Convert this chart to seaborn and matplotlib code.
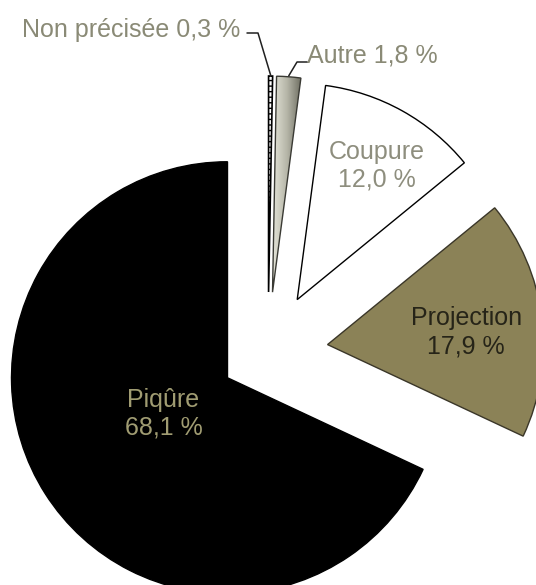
import numpy as np
import matplotlib
matplotlib.use("Agg")
import matplotlib.pyplot as plt
import seaborn as sns

# Répartition des accidents par type de blessure (%)
categories = ["Piqûre", "Projection", "Coupure", "Autre", "Non précisée"]
values = [68.1, 17.9, 12.0, 1.8, 0.3]
value_labels = ["68,1 %", "17,9 %", "12,0 %", "1,8 %", "0,3 %"]

sns.set_style("white")
plt.rcParams["font.family"] = ["Liberation Sans", "DejaVu Sans"]

W, H = 536, 585
fig = plt.figure(figsize=(W / 100, H / 100), dpi=100)
ax = fig.add_axes([0, 0, 1, 1])

face_colors = ["#000000", "#8b8257", "#ffffff", "#a8a89a", "#ffffff"]
edge_colors = ["#000000", "#3a3628", "#000000", "#3a3a34", "#000000"]
# wedge offsets, in the same units as the radius
explode = [48, 60, 60, 60, 60]

wedges, _ = ax.pie(
    values,
    explode=explode,
    startangle=90,
    counterclock=True,
    radius=216,
    center=(268, 233),
    colors=face_colors,
    wedgeprops=dict(linewidth=1.0),
)
for w, ec in zip(wedges, edge_colors):
    w.set_edgecolor(ec)

# ladder-like pattern on the thin "Non précisée" slice
wedges[4].set_hatch("---")
wedges[4].set_linewidth(1.2)

# shaded grey fill for "Autre"
autre = wedges[3]
bb = autre.get_path().get_extents()
grad = np.linspace(0, 1, 64)[None, :]
cmap = matplotlib.colors.LinearSegmentedColormap.from_list(
    "autre", ["#e2e2d6", "#b4b4a6", "#6c6c60"])
im = ax.imshow(np.repeat(grad, 4, axis=0), cmap=cmap, aspect="auto",
               extent=(bb.x0, bb.x1, bb.y0, bb.y1), zorder=autre.get_zorder() + 0.5,
               interpolation="bilinear")
im.set_clip_path(autre)
autre.set_facecolor("none")
autre.set_zorder(autre.get_zorder() + 1)


def wedge_point(w, frac, dtheta=0.0):
    ang = np.deg2rad((w.theta1 + w.theta2) / 2 + dtheta)
    cx, cy = w.center
    return cx + frac * w.r * np.cos(ang), cy + frac * w.r * np.sin(ang)


fs = 18
# labels inside the three large slices: (radial fraction, angular shift, colour)
inside = {0: (0.34, -3.0, "#a09c72"),
          1: (0.645, -2.0, "#262418"),
          2: (0.72, -1.5, "#8e8e7e")}
for i, (frac, dth, col) in inside.items():
    x, y = wedge_point(wedges[i], frac, dth)
    ax.text(x, y, f"{categories[i]}\n{value_labels[i]}", ha="center", va="center",
            fontsize=fs, color=col, linespacing=1.2, zorder=10)

# outside labels with leader lines for the small slices
lab_col = "#8a8a76"
tip = wedge_point(wedges[4], 1.0)
ax.text(240, H - 37, f"{categories[4]} {value_labels[4]}", ha="right", va="baseline",
        fontsize=fs, color=lab_col)
ax.plot([247, 258, tip[0]], [H - 33, H - 33, tip[1] + 1], color="#202020", lw=1.1, zorder=11)

tip = wedge_point(wedges[3], 1.0)
ax.text(307, H - 62, f"{categories[3]} {value_labels[3]}", ha="left", va="baseline",
        fontsize=fs, color=lab_col)
ax.plot([307, 297, tip[0]], [H - 62, H - 62, tip[1] + 1], color="#202020", lw=1.1, zorder=11)

ax.set_xlim(0, W)
ax.set_ylim(0, H)
ax.set_axis_off()

fig.savefig("out.png", dpi=100, facecolor="white")
